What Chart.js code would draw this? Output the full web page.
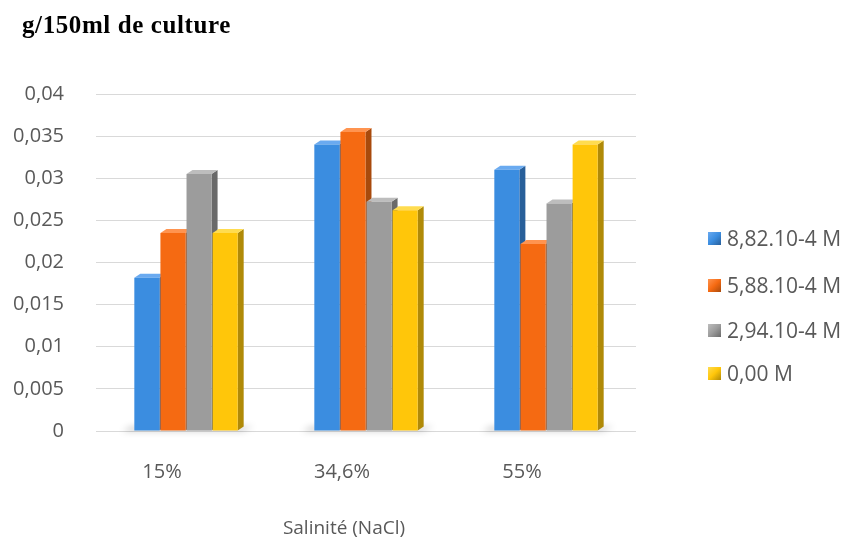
<!DOCTYPE html>
<html>
<head>
<meta charset="utf-8">
<script src="https://cdn.jsdelivr.net/npm/chart.js"></script>
<style>
  html,body{margin:0;padding:0;background:#fff}
  #wrap{position:relative;width:847px;height:540px}
  #title{position:absolute;left:22px;top:11px;line-height:30px;white-space:nowrap;color:#000;
         font:bold 25px "Liberation Serif","Times New Roman",serif;letter-spacing:0.6px}
  #legend{position:absolute;left:708px;top:0;font:21px "Open Sans",sans-serif;color:#595959}
  .li{position:absolute;left:0;height:28px;line-height:28px;white-space:nowrap;display:flex;align-items:center}
  .li .box{width:13px;height:13px;margin-right:6px}
  #xtitle{position:absolute;left:194px;width:300px;top:514px;line-height:26px;text-align:center;
          font:19px "Open Sans",sans-serif;color:#595959;white-space:nowrap}
</style>
</head>
<body>
<div id="wrap">
  <canvas id="c" width="847" height="540"></canvas>
  <div id="title"></div>
  <div id="legend"></div>
  <div id="xtitle"></div>
</div>
<script>
/* ===== data ===== */
const categories  = ['15%', '34,6%', '55%'];
const seriesNames = ['8,82.10-4 M', '5,88.10-4 M', '2,94.10-4 M', '0,00 M'];
const s882 = [0.0182, 0.034, 0.031];
const s588 = [0.0235, 0.0355, 0.0222];
const s294 = [0.0305, 0.0272, 0.027];
const s000 = [0.0235, 0.0262, 0.034];
const yTickLabels = ['0', '0,005', '0,01', '0,015', '0,02', '0,025', '0,03', '0,035', '0,04'];
const titleText  = 'g/150ml de culture';
const xTitleText = 'Salinité (NaCl)';

/* ===== colours ===== */
const fronts = ['#3b8de0', '#f56a12', '#9c9c9c', '#ffc60a'];
const sides  = ['#285f9a', '#a84a0c', '#6a6a6a', '#b08a08'];
const tops   = ['#6aaaf0', '#ff9450', '#bdbdbd', '#ffdc50'];

/* fake 3d: side + top faces drawn before the fronts */
const DX = 6, DY = 4;
const bars3d = {
  id: 'bars3d',
  beforeDatasetsDraw(chart) {
    const ctx = chart.ctx;
    ctx.save();
    categories.forEach((_, i) => {
      // soft floor shadow under each group
      const first = chart.getDatasetMeta(0).data[i];
      const last  = chart.getDatasetMeta(chart.data.datasets.length - 1).data[i];
      const gl = first.x - first.width / 2, gr = last.x + last.width / 2, gb = first.base;
      ctx.save();
      ctx.filter = 'blur(3px)';
      ctx.fillStyle = 'rgba(0,0,0,0.18)';
      ctx.beginPath();
      ctx.moveTo(gl - 12, gb + 1); ctx.lineTo(gr + 4, gb + 1);
      ctx.lineTo(gr + DX + 10, gb - DY); ctx.lineTo(gl - 4, gb - DY);
      ctx.fill();
      ctx.restore();

      chart.data.datasets.forEach((ds, d) => {
        const el = chart.getDatasetMeta(d).data[i];
        const l = el.x - el.width / 2, r = el.x + el.width / 2, t = el.y, b = el.base;
        ctx.fillStyle = sides[d];
        ctx.beginPath();
        ctx.moveTo(r, t); ctx.lineTo(r + DX, t - DY); ctx.lineTo(r + DX, b - DY); ctx.lineTo(r, b);
        ctx.closePath(); ctx.fill();
        ctx.fillStyle = tops[d];
        ctx.beginPath();
        ctx.moveTo(l, t); ctx.lineTo(l + DX, t - DY); ctx.lineTo(r + DX, t - DY); ctx.lineTo(r, t);
        ctx.closePath(); ctx.fill();
      });
    });
    ctx.restore();
  }
};

const font = size => ({ family: '"Open Sans", sans-serif', size });

new Chart(document.getElementById('c'), {
  type: 'bar',
  data: {
    labels: categories,
    datasets: [s882, s588, s294, s000].map((vals, d) => ({
      label: seriesNames[d],
      data: vals,
      backgroundColor: fronts[d],
      borderWidth: 0,
      categoryPercentage: 0.58,
      barPercentage: 0.96
    }))
  },
  options: {
    responsive: false,
    animation: false,
    layout: { padding: { left: 0, right: 211, top: 94, bottom: 49 } },
    plugins: {
      legend: { display: false },
      tooltip: { enabled: false },
      title: { display: false }
    },
    scales: {
      y: {
        min: 0, max: 0.04,
        ticks: { stepSize: 0.005, color: '#595959', font: font(20), padding: 32,
                 callback: (v, i) => yTickLabels[i] },
        grid: { color: '#d9d9d9', drawTicks: false },
        border: { display: false },
        afterFit: s => { s.width = 96; }
      },
      x: {
        ticks: { color: '#595959', font: font(20), padding: 21, labelOffset: -24 },
        grid: { display: false },
        border: { display: false },
        afterFit: s => { s.height = 60; }
      }
    }
  },
  plugins: [bars3d]
});

/* title, legend and axis title as plain text */
document.getElementById('title').textContent = titleText;
const legendRows = [238, 285, 330, 373];
document.getElementById('legend').innerHTML = seriesNames.map((n, d) =>
  `<div class="li" style="top:${legendRows[d] - 14}px"><span class="box" style="background:linear-gradient(135deg,${tops[d]},${fronts[d]} 50%,${sides[d]})"></span>${n}</div>`
).join('');
document.getElementById('xtitle').textContent = xTitleText;
</script>
</body>
</html>
